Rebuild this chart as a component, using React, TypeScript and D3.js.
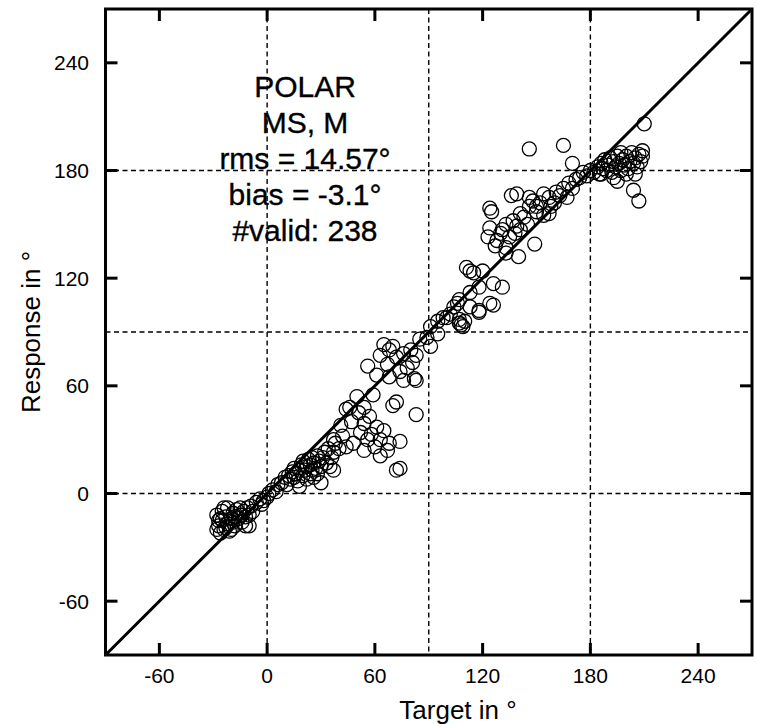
import React from "react";
import * as d3 from "d3";

const TICKS = [-60, 0, 60, 120, 180, 240];
const GRID = [0, 90, 180];
const DOMAIN: [number, number] = [-90, 270];
const TEXT_LINES = ["POLAR", "MS, M", "rms = 14.57°", "bias = -3.1°", "#valid: 238"];

// [target, response] pairs
const POINTS: [number, number][] = [
  [-28, -12], [-27, -18], [-26, -22], [-25, -15], [-25, -10], [-24, -20], [-23, -13], [-22, -17], [-22, -8], [-21, -21],
  [-20, -14], [-19, -11], [-18, -18], [-17, -9], [-16, -14], [-15, -12], [-14, -16], [-13, -10], [-12, -13], [-11, -8],
  [-10, -12], [-9, -7], [-8, -10], [-12, -18], [-20, -20], [-26, -14], [-24, -8], [-18, -13], [-15, -8], [-28, -20],
  [-10, -18], [-27, -15], [-23, -19], [-19, -16], [-14, -12],
  [-6, -5], [-4, -3], [-2, -4], [0, -2], [-3, -6], [1, 0], [3, 2], [6, 5], [5, 1],
  [8, 6], [10, 9], [11, 5], [12, 10], [13, 8], [14, 12], [15, 9], [15, 14], [16, 11], [17, 7],
  [18, 13], [18, 4], [19, 16], [20, 10], [20, 18], [21, 13], [22, 8], [22, 15], [23, 19], [24, 11],
  [24, 16], [25, 13], [25, 20], [26, 9], [26, 17], [27, 14], [28, 21], [28, 11], [29, 18], [30, 6],
  [30, 15], [31, 20], [32, 23], [33, 17], [34, 25], [35, 15], [36, 20], [37, 13], [37, 23], [38, 28],
  [37, 30], [40, 25],
  [41, 38], [44, 26], [44, 47], [46, 48], [48, 28], [50, 54], [54, 24], [54, 39], [54, 48], [57, 43],
  [59, 55], [61, 37], [63, 30], [63, 21], [67, 24], [68, 28], [74, 29], [72, 13], [74, 14], [70, 49],
  [72, 51], [83, 44], [52, 34], [56, 30], [60, 26], [65, 35], [42, 32], [47, 40], [58, 33], [51, 45],
  [56, 71], [65, 83], [68, 80], [72, 76], [76, 78], [63, 77], [80, 80], [83, 77], [81, 73], [68, 65],
  [76, 63], [82, 64], [83, 63], [67, 72], [70, 82], [78, 70], [61, 66], [74, 68],
  [85, 86], [89, 87], [91, 82], [91, 93], [95, 89], [98, 98], [107, 97], [106, 106], [113, 104], [126, 105],
  [118, 101], [100, 98], [104, 104], [107, 108], [113, 112], [118, 115], [124, 106], [118, 102], [126, 117], [131, 115],
  [111, 126], [113, 124], [115, 123], [120, 124], [107, 95], [108, 94], [110, 96], [109, 93], [102, 100], [95, 96],
  [124, 159], [125, 157], [141, 156], [137, 152], [133, 150], [139, 149], [141, 147], [131, 147], [135, 143], [130, 145],
  [128, 141], [124, 148], [123, 143], [149, 139], [140, 132], [133, 137], [133, 134], [136, 166], [139, 167], [146, 165],
  [148, 163], [152, 162], [154, 167], [157, 165], [161, 168], [167, 165], [165, 170], [168, 173], [174, 176], [146, 160],
  [150, 157], [154, 155], [157, 156], [146, 192], [165, 194], [170, 184], [143, 154], [145, 150], [150, 160], [160, 162],
  [163, 166], [158, 160], [138, 145], [127, 138], [170, 170], [172, 175],
  [180, 180], [182, 179], [184, 182], [185, 178], [186, 184], [187, 181], [188, 186], [189, 180], [190, 183], [191, 187],
  [192, 179], [193, 185], [194, 182], [195, 188], [195, 174], [196, 184], [197, 180], [198, 186], [199, 183], [200, 188],
  [201, 181], [202, 185], [203, 190], [204, 169], [204, 184], [205, 187], [206, 182], [207, 163], [207, 189], [208, 185],
  [209, 191], [210, 206], [200, 178], [197, 190], [186, 178], [193, 176], [205, 178], [209, 188], [178, 177], [176, 179],
];

const W = 757;
const H = 724;
const L = 105.5, R = 752, T = 9, B = 655;
const FONT = "'Liberation Sans', Arial, sans-serif";

export default function App() {
  const x = d3.scaleLinear().domain(DOMAIN).range([L, R]);
  const y = d3.scaleLinear().domain(DOMAIN).range([B, T]);
  const tickLen = 12;
  return (
    <svg width={W} height={H} style={{ position: "absolute", left: 0, top: 0, background: "#fff" }}>
      <rect x={0} y={0} width={W} height={H} fill="#fff" />
      {GRID.map((g) => (
        <g key={"g" + g}>
          <line x1={x(g)} x2={x(g)} y1={T} y2={B} stroke="#000" strokeWidth={1.4} strokeDasharray="5,3.5" />
          <line x1={L} x2={R} y1={y(g)} y2={y(g)} stroke="#000" strokeWidth={1.4} strokeDasharray="5,3.5" />
        </g>
      ))}
      <line x1={x(DOMAIN[0])} y1={y(DOMAIN[0])} x2={x(DOMAIN[1])} y2={y(DOMAIN[1])} stroke="#000" strokeWidth={3} />
      {POINTS.map((p, i) => (
        <circle key={i} cx={x(p[0])} cy={y(p[1])} r={7} fill="none" stroke="#000" strokeWidth={1.3} />
      ))}
      {TICKS.map((t) => (
        <g key={"t" + t} stroke="#000" strokeWidth={3}>
          <line x1={x(t)} x2={x(t)} y1={B} y2={B - tickLen} />
          <line x1={x(t)} x2={x(t)} y1={T} y2={T + tickLen} />
          <line x1={L} x2={L + tickLen} y1={y(t)} y2={y(t)} />
          <line x1={R} x2={R - tickLen} y1={y(t)} y2={y(t)} />
        </g>
      ))}
      <rect x={L} y={T} width={R - L} height={B - T} fill="none" stroke="#000" strokeWidth={3} />
      {TICKS.map((t) => (
        <text key={"xl" + t} x={x(t)} y={683} textAnchor="middle" fontFamily={FONT} fontSize={21} fill="#000">
          {t}
        </text>
      ))}
      {TICKS.map((t) => (
        <text key={"yl" + t} x={89} y={y(t) + 7.5} textAnchor="end" fontFamily={FONT} fontSize={21} fill="#000">
          {t}
        </text>
      ))}
      <text x={458} y={719} textAnchor="middle" fontFamily={FONT} fontSize={26} fill="#000">
        Target in °
      </text>
      <text
        transform={`translate(40, ${(T + B) / 2}) rotate(-90)`}
        textAnchor="middle"
        fontFamily={FONT}
        fontSize={26}
        fill="#000"
      >
        Response in °
      </text>
      {TEXT_LINES.map((s, i) => (
        <text
          key={s}
          x={305}
          y={97 + i * 36}
          textAnchor="middle"
          fontFamily={FONT}
          fontSize={30}
          fill="#000"
          stroke="#000"
          strokeWidth={0.35}
        >
          {s}
        </text>
      ))}
    </svg>
  );
}
